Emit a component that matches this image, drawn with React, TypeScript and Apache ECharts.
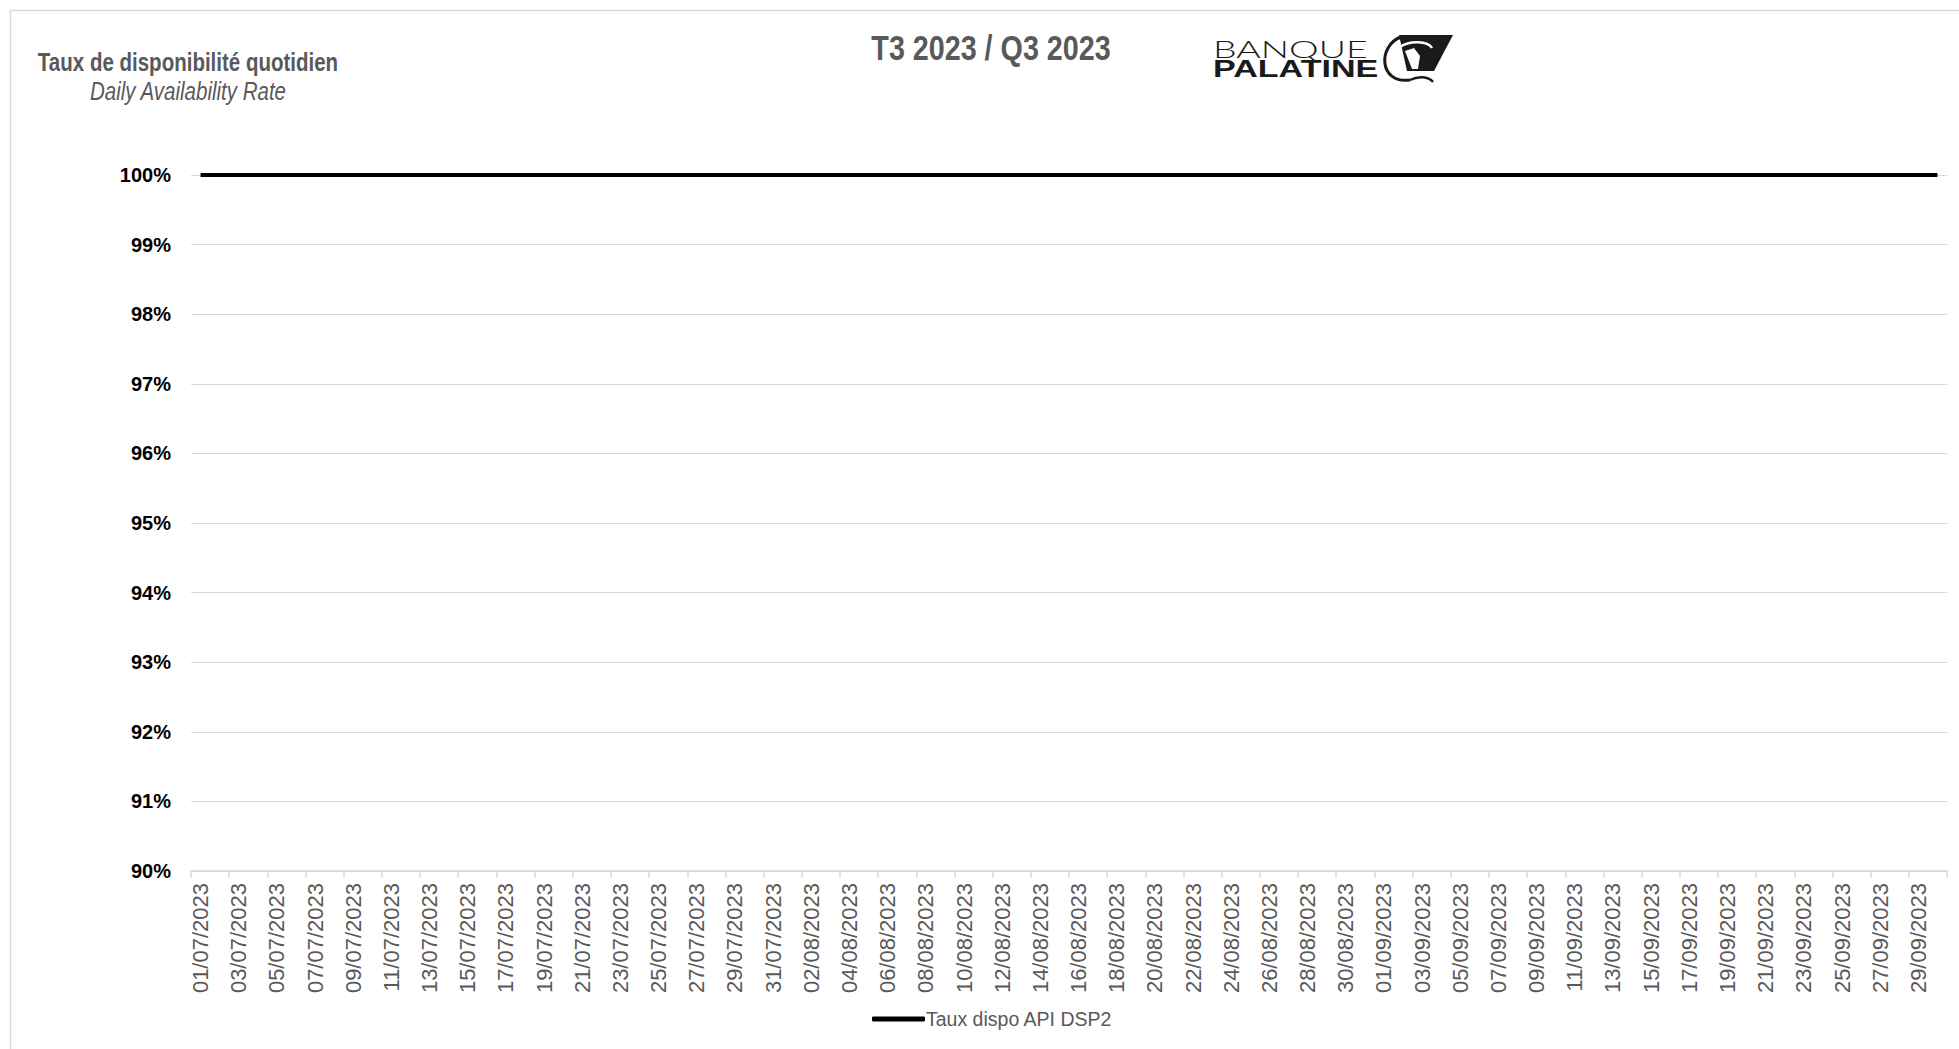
import React, { useEffect, useRef } from "react";
import * as echarts from "echarts";

const julyDates = [
  "01/07/2023","02/07/2023","03/07/2023","04/07/2023","05/07/2023","06/07/2023","07/07/2023","08/07/2023",
  "09/07/2023","10/07/2023","11/07/2023","12/07/2023","13/07/2023","14/07/2023","15/07/2023","16/07/2023",
  "17/07/2023","18/07/2023","19/07/2023","20/07/2023","21/07/2023","22/07/2023","23/07/2023","24/07/2023",
  "25/07/2023","26/07/2023","27/07/2023","28/07/2023","29/07/2023","30/07/2023","31/07/2023",
];
const augustDates = [
  "01/08/2023","02/08/2023","03/08/2023","04/08/2023","05/08/2023","06/08/2023","07/08/2023","08/08/2023",
  "09/08/2023","10/08/2023","11/08/2023","12/08/2023","13/08/2023","14/08/2023","15/08/2023","16/08/2023",
  "17/08/2023","18/08/2023","19/08/2023","20/08/2023","21/08/2023","22/08/2023","23/08/2023","24/08/2023",
  "25/08/2023","26/08/2023","27/08/2023","28/08/2023","29/08/2023","30/08/2023","31/08/2023",
];
const septemberDates = [
  "01/09/2023","02/09/2023","03/09/2023","04/09/2023","05/09/2023","06/09/2023","07/09/2023","08/09/2023",
  "09/09/2023","10/09/2023","11/09/2023","12/09/2023","13/09/2023","14/09/2023","15/09/2023","16/09/2023",
  "17/09/2023","18/09/2023","19/09/2023","20/09/2023","21/09/2023","22/09/2023","23/09/2023","24/09/2023",
  "25/09/2023","26/09/2023","27/09/2023","28/09/2023","29/09/2023","30/09/2023",
];
const categories = [...julyDates, ...augustDates, ...septemberDates];

// Taux dispo API DSP2 (%), one value per day
const julyRates = [
  100, 100, 100, 100, 100, 100, 100, 100, 100, 100, 100, 100, 100, 100, 100, 100,
  100, 100, 100, 100, 100, 100, 100, 100, 100, 100, 100, 100, 100, 100, 100,
];
const augustRates = [
  100, 100, 100, 100, 100, 100, 100, 100, 100, 100, 100, 100, 100, 100, 100, 100,
  100, 100, 100, 100, 100, 100, 100, 100, 100, 100, 100, 100, 100, 100, 100,
];
const septemberRates = [
  100, 100, 100, 100, 100, 100, 100, 100, 100, 100, 100, 100, 100, 100, 100, 100,
  100, 100, 100, 100, 100, 100, 100, 100, 100, 100, 100, 100, 100, 100,
];
const rates = [...julyRates, ...augustRates, ...septemberRates];

const seriesName = "Taux dispo API DSP2";
const yMin = 90;
const yMax = 100;
const yStep = 1;

const titleText = "T3 2023 / Q3 2023";
const leftTitle = "Taux de disponibilité quotidien";
const leftSubtitle = "Daily Availability Rate";

const SANS = '"Liberation Sans", Arial, sans-serif';

export default function App() {
  const ref = useRef<HTMLDivElement>(null);

  useEffect(() => {
    if (!ref.current) return;
    const chart = echarts.init(ref.current, undefined, { renderer: "svg" });
    chart.setOption({
      animation: false,
      backgroundColor: "#ffffff",
      grid: { left: 191, right: 12, top: 175, bottom: 178, containLabel: false },
      xAxis: {
        type: "category",
        data: categories,
        boundaryGap: true,
        axisLine: { show: true, lineStyle: { color: "#d9d9d9", width: 1.5 } },
        axisTick: { show: true, interval: 1, length: 7, lineStyle: { color: "#d9d9d9", width: 1.5 } },
        axisLabel: {
          interval: 1,
          rotate: 90,
          margin: 12,
          color: "#595959",
          fontSize: 22,
          fontFamily: SANS,
        },
        splitLine: { show: false },
      },
      yAxis: {
        type: "value",
        min: yMin,
        max: yMax,
        interval: yStep,
        axisLine: { show: false },
        axisTick: { show: false },
        axisLabel: {
          formatter: (v: number) => `${v}%`,
          color: "#000000",
          fontWeight: "bold",
          fontSize: 20,
          fontFamily: SANS,
          margin: 20,
        },
        splitLine: { show: true, lineStyle: { color: "#d9d9d9", width: 1 } },
      },
      legend: {
        show: true,
        left: 867,
        top: 1004,
        icon: "roundRect",
        itemWidth: 53,
        itemHeight: 5,
        textStyle: { color: "#595959", fontSize: 19.5, fontFamily: SANS, padding: [0, 0, 0, -4] },
        data: [seriesName],
      },
      series: [
        {
          name: seriesName,
          type: "line",
          data: rates,
          showSymbol: false,
          symbol: "none",
          color: "#000000",
          lineStyle: { color: "#000000", width: 4 },
          itemStyle: { color: "#000000" },
        },
      ],
      graphic: [
        {
          type: "rect",
          silent: true,
          shape: { x: 10.5, y: 10.5, width: 1970, height: 1060 },
          style: { fill: "none", stroke: "#d9d9d9", lineWidth: 1.5 },
        },
        {
          type: "text",
          x: 991,
          y: 48,
          scaleX: 0.82,
          style: {
            text: titleText,
            x: 0,
            y: 0,
            align: "center",
            verticalAlign: "middle",
            fontSize: 35,
            fontWeight: "bold",
            fontFamily: SANS,
            fill: "#595959",
          },
        },
        {
          type: "text",
          x: 188,
          y: 62,
          scaleX: 0.82,
          style: {
            text: leftTitle,
            x: 0,
            y: 0,
            align: "center",
            verticalAlign: "middle",
            fontSize: 25,
            fontWeight: "bold",
            fontFamily: SANS,
            fill: "#595959",
          },
        },
        {
          type: "text",
          x: 188,
          y: 91,
          scaleX: 0.82,
          style: {
            text: leftSubtitle,
            x: 0,
            y: 0,
            align: "center",
            verticalAlign: "middle",
            fontSize: 25,
            fontStyle: "italic",
            fontFamily: SANS,
            fill: "#595959",
          },
        },
        {
          type: "group",
          children: [
            {
              type: "text",
              x: 1213,
              y: 49,
              scaleX: 1.56,
              style: {
                text: "BANQUE",
                x: 0,
                y: 0,
                align: "left",
                verticalAlign: "middle",
                fontSize: 24,
                fontWeight: 300,
                fontFamily: 'Lato, "Liberation Sans", sans-serif',
                fill: "#1a1a1a",
              },
            },
            {
              type: "text",
              x: 1213,
              y: 68,
              scaleX: 1.42,
              style: {
                text: "PALATINE",
                x: 0,
                y: 0,
                align: "left",
                verticalAlign: "middle",
                fontSize: 24,
                fontWeight: "bold",
                fontFamily: SANS,
                fill: "#1a1a1a",
              },
            },
            {
              type: "polygon",
              shape: { points: [[1399, 35], [1453, 35], [1434, 71], [1407, 71]] },
              style: { fill: "#1a1a1a" },
            },
            {
              type: "bezierCurve",
              shape: { x1: 1400, y1: 47, cpx1: 1410, cpy1: 40, cpx2: 1428, cpy2: 41, x2: 1432, y2: 48 },
              style: { stroke: "#ffffff", lineWidth: 2.5, fill: "none" },
            },
            {
              type: "polygon",
              shape: { points: [[1405, 51], [1414, 48], [1420, 56], [1418, 69], [1412, 69]] },
              style: { fill: "#ffffff" },
            },
            {
              type: "bezierCurve",
              shape: { x1: 1401, y1: 37, cpx1: 1378, cpy1: 45, cpx2: 1378, cpy2: 84, x2: 1410, y2: 80 },
              style: { stroke: "#1a1a1a", lineWidth: 3, fill: "none" },
            },
            {
              type: "bezierCurve",
              shape: { x1: 1410, y1: 80, cpx1: 1418, cpy1: 76, cpx2: 1428, cpy2: 76, x2: 1433, y2: 82 },
              style: { stroke: "#1a1a1a", lineWidth: 2.5, fill: "none" },
            },
          ],
        },
      ],
    });
    return () => {
      chart.dispose();
    };
  }, []);

  return (
    <div
      ref={ref}
      style={{ position: "fixed", left: 0, top: 0, width: 1959, height: 1049, background: "#ffffff" }}
    />
  );
}
